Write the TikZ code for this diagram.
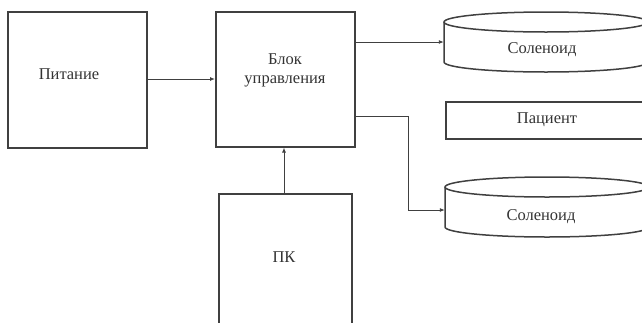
\documentclass[tikz,border=0pt]{standalone}
\usepackage{fontspec}
\setmainfont{Liberation Serif}
\usetikzlibrary{arrows.meta}
\begin{document}
\begin{tikzpicture}[x=1pt,y=-1pt,
  ln/.style={draw=black!75, line width=1.5pt},
  box/.style={ln, rectangle, inner sep=0pt, anchor=north west},
  lbl/.style={font=\fontsize{16.5}{19}\selectfont, text=black!80, align=center},
  arr/.style={draw=black!75, line width=0.9pt, -{Latex[length=5pt,width=4pt]}}]
\useasboundingbox (0,0) rectangle (642,322);
\clip (0,0) rectangle (642,322);
% boxes
\node[box, minimum width=139pt, minimum height=136pt] (pit) at (7,11) {};
\node[lbl] at (69,74) {Питание};
\node[box, minimum width=139pt, minimum height=135pt] (blk) at (215,11) {};
\node[lbl] at (285,70) {Блок\\управления};
\node[box, minimum width=133pt, minimum height=160pt] (pk) at (218,193) {};
\node[lbl] at (284,257) {ПК};
\node[box, minimum width=206pt, minimum height=37pt] (pat) at (445,101) {};
\node[lbl] at (547,120) {Пациент};
% solenoids
\node[inner sep=0pt, minimum width=204pt, minimum height=40pt] (s1) at (546,42) {};
\draw[ln] (546,22) ellipse [x radius=102, y radius=10];
\draw[ln] (444,22) -- (444,62) arc[start angle=180, end angle=0, x radius=102, y radius=10] -- (648,22);
\node[lbl] at (542,50) {Соленоид};
\node[inner sep=0pt, minimum width=204pt, minimum height=40pt] (s2) at (547,207) {};
\draw[ln] (547,187) ellipse [x radius=102, y radius=10];
\draw[ln] (445,187) -- (445,227) arc[start angle=180, end angle=0, x radius=102, y radius=10] -- (649,187);
\node[lbl] at (541,217) {Соленоид};
% connectors
\draw[arr] (pit.east |- 0,79) -- (blk.west |- 0,79);
\draw[arr] (blk.east |- 0,42) -- (s1.west |- 0,42);
\draw[arr] (blk.east |- 0,116) -| (408,210) -- (s2.west |- 0,210);
\draw[arr] (pk.north -| 284,0) -- (blk.south -| 284,0);
\end{tikzpicture}
\end{document}
